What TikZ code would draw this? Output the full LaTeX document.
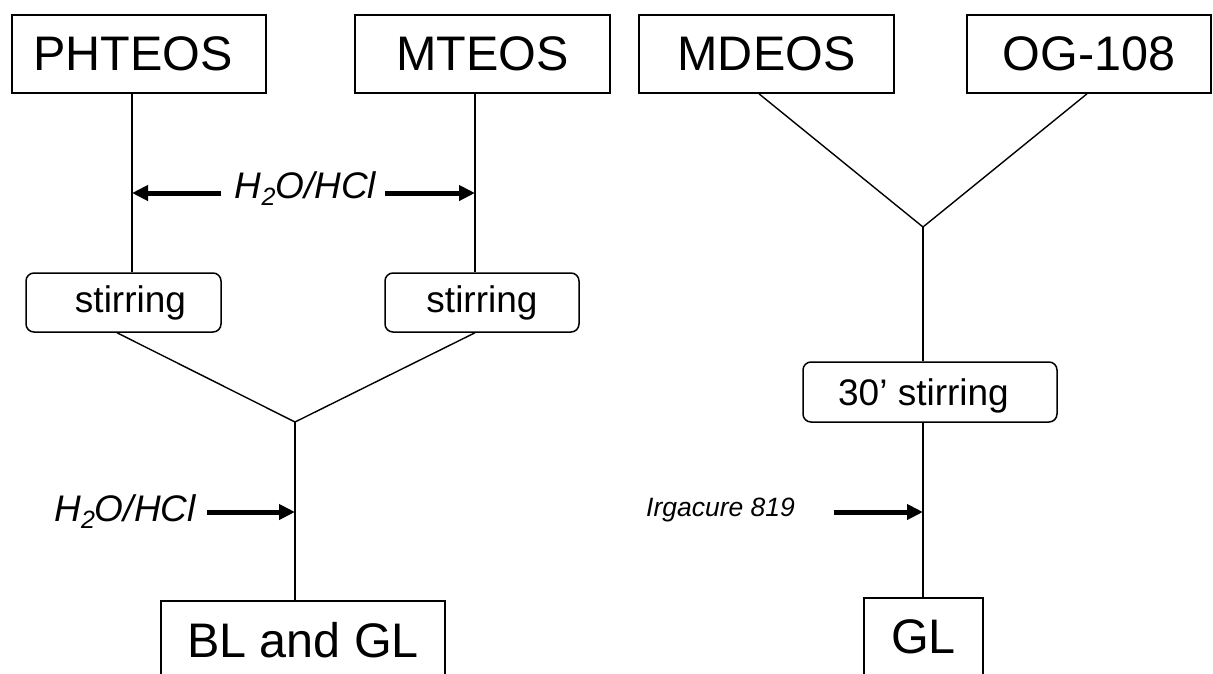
\documentclass[tikz,border=0pt]{standalone}
\usepackage{fontspec}
\setmainfont{Liberation Sans}
\usetikzlibrary{arrows.meta}
\begin{document}
\begin{tikzpicture}[x=1pt,y=-1pt,
  box/.style={draw, line width=1.6pt, inner sep=0pt, minimum height=78pt, font=\fontsize{48.5}{58}\selectfont},
  rbox/.style={draw, line width=1.5pt, rounded corners=8pt, inner sep=0pt, font=\fontsize{37}{44}\selectfont},
  conn/.style={line width=1.4pt},
  feed/.style={line width=5pt, -{Triangle[length=16pt,width=15pt]}},
  lab/.style={font=\fontsize{37}{44}\selectfont\itshape, inner sep=0pt, anchor=base},
  smalllab/.style={font=\fontsize{26.5}{32}\selectfont\itshape, inner sep=0pt, anchor=base west}
]
\useasboundingbox (0,0) rectangle (1213,673);
\clip (0,0) rectangle (1213,673);

% top boxes
\node[box, minimum width=254.5pt] (phteos) at (139,54) {\hspace*{-12pt}PHTEOS};
\node[box, minimum width=255pt] (mteos) at (482.5,54) {MTEOS};
\node[box, minimum width=255pt] (mdeos) at (766.5,54) {MDEOS};
\node[box, minimum width=244pt] (og) at (1089,54) {OG-108};

% stirring boxes
\node[rbox, minimum width=195pt, minimum height=59pt] (stir1) at (123.5,302.5) {\hspace*{14pt}stirring};
\node[rbox, minimum width=194pt, minimum height=59pt] (stir2) at (482,302.5) {stirring};
\node[rbox, minimum width=254pt, minimum height=60pt, text depth=0pt] (stir3) at (930,392) {30’ stirring\hspace*{13pt}};

% bottom boxes
\node[box, minimum width=284pt] (blgl) at (303,640) {BL and GL};
\node[box, minimum width=119pt] (gl) at (923.5,637) {GL};

% helper coordinates
\coordinate (p1) at (132,0);
\coordinate (p2) at (475,0);
\coordinate (s1) at (117,0);
\coordinate (v1) at (295,422);
\coordinate (v2) at (923,227);
\coordinate (m1) at (759,0);
\coordinate (o1) at (1087,0);

% connectors left
\draw[conn] (phteos.south -| p1) -- (stir1.north -| p1);
\draw[conn] (mteos.south -| p2) -- (stir2.north -| p2);
\draw[conn] (stir1.south -| s1) -- (v1) -- (stir2.south -| p2);
\draw[conn] (v1) -- (blgl.north -| v1);

% connectors right
\draw[conn] (mdeos.south -| m1) -- (v2) -- (og.south -| o1);
\draw[conn] (v2) -- (stir3.north -| v2);
\draw[conn] (stir3.south -| v2) -- (gl.north -| v2);

% feed arrows
\coordinate (a1s) at (221,193);
\coordinate (a2s) at (385,193);
\coordinate (b1) at (207,512);
\coordinate (b2) at (834,512);
\draw[feed] (a1s) -- (a1s -| p1);
\draw[feed] (a2s) -- (a2s -| p2);
\draw[feed] (b1) -- (b1 -| v1);
\draw[feed] (b2) -- (b2 -| v2);

% labels
\node[lab] (t1) at (305.5,198) {H\raisebox{-7pt}{\fontsize{25}{25}\selectfont 2}O/HCl};
\node[lab] (t2) at (125,521) {H\raisebox{-7pt}{\fontsize{25}{25}\selectfont 2}O/HCl};
\node[smalllab] (t3) at (646,516) {Irgacure 819};
\end{tikzpicture}
\end{document}
